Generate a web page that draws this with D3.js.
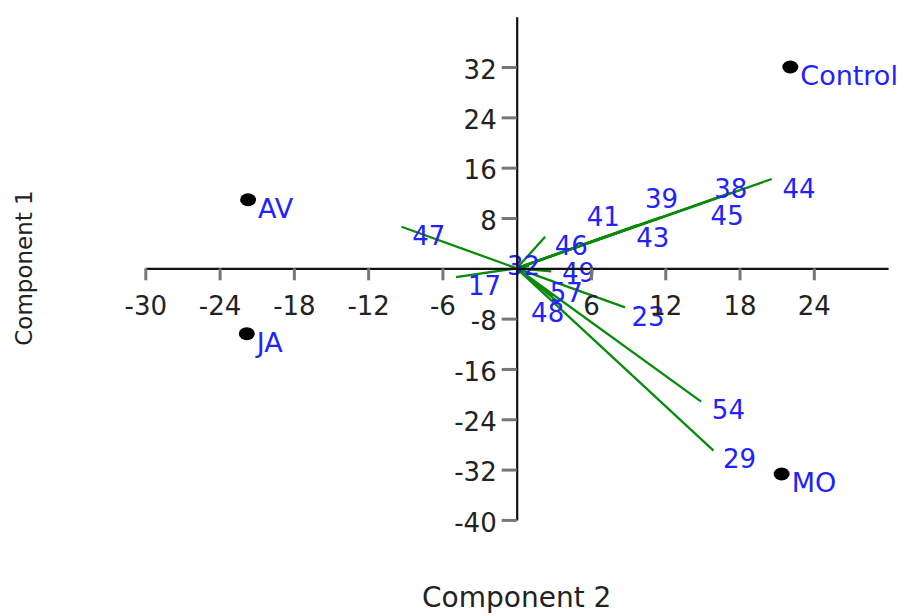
<!DOCTYPE html>
<html>
<head>
<meta charset="utf-8">
<script src="https://cdn.jsdelivr.net/npm/d3@7"></script>
<style>
  body { margin: 0; background: #fff; }
  text { font-family: "DejaVu Sans", sans-serif; }
</style>
</head>
<body>
<div id="chart"></div>
<script>
// treatments (scores)
const groups = ['Control', 'AV', 'JA', 'MO'];
const groupX = [22.1, -21.7, -21.8, 21.4];
const groupY = [32.0, 10.9, -10.4, -32.7];

// variables (loadings) - line end points
const vars = ['47', '17', '32', '46', '41', '39', '43', '38', '45', '44', '49', '57', '48', '23', '54', '29'];
const varX = [-9.3, -4.9, 1.0, 2.3, 7.2, 11.6, 9.8, 17.3, 16.6, 20.6, 2.8, 3.3, 2.9, 8.75, 14.9, 15.9];
const varY = [6.6, -1.4, 0.4, 5.0, 5.1, 8.1, 6.9, 12.0, 11.5, 14.2, -0.5, -5.3, -4.4, -6.2, -21.2, -29.0];
// where the labels sit (centre of text)
const labX = [-7.1, -2.6, 0.55, 4.4, 7.0, 11.7, 11.0, 17.3, 17.0, 22.8, 5.0, 4.0, 2.5, 10.6, 17.1, 18.0];
const labY = [5.2, -2.7, 0.37, 3.6, 8.2, 11.0, 4.9, 12.7, 8.3, 12.6, -0.7, -3.9, -7.0, -7.7, -22.5, -30.3];

const xTicks = [-30, -24, -18, -12, -6, 6, 12, 18, 24];
const yTicks = [-40, -32, -24, -16, -8, 8, 16, 24, 32];

const width = 905, height = 616;

const svg = d3.select('#chart').append('svg')
  .attr('width', width)
  .attr('height', height);

const x = d3.scaleLinear().domain([-30, 30]).range([145.3, 888.1]);
const y = d3.scaleLinear().domain([-40, 40]).range([519.9, 16.7]);
const fmt = d => String(d); // plain hyphen minus, like the original

// vectors
svg.append('g').selectAll('line')
  .data(vars)
  .enter()
  .append('line')
  .attr('x1', x(0)).attr('y1', y(0))
  .attr('x2', (d, i) => x(varX[i]))
  .attr('y2', (d, i) => y(varY[i]))
  .attr('stroke', '#0a8a0a')
  .attr('stroke-width', 2.3);

// variable labels
svg.append('g').selectAll('text')
  .data(vars)
  .enter()
  .append('text')
  .attr('x', (d, i) => x(labX[i]))
  .attr('y', (d, i) => y(labY[i]))
  .attr('dy', '0.36em')
  .attr('text-anchor', 'middle')
  .attr('font-size', 26)
  .attr('fill', '#2222ff')
  .text(d => d);

// axes crossing at the origin
const xAxis = svg.append('g')
  .attr('transform', `translate(0,${y(0)})`)
  .call(d3.axisBottom(x).tickValues(xTicks).tickFormat(fmt).tickSize(12).tickSizeOuter(0).tickPadding(16));
const yAxis = svg.append('g')
  .attr('transform', `translate(${x(0)},0)`)
  .call(d3.axisLeft(y).tickValues(yTicks).tickFormat(fmt).tickSize(15).tickSizeOuter(0).tickPadding(5));

[xAxis, yAxis].forEach(a => {
  a.select('.domain').attr('stroke', '#111').attr('stroke-width', 2.2);
  a.selectAll('.tick line').attr('stroke', '#777').attr('stroke-width', 3);
  a.selectAll('.tick text')
    .attr('font-size', 26)
    .attr('fill', '#222')
    .style('font-family', '"DejaVu Sans", sans-serif');
});
yAxis.selectAll('.tick text').attr('dy', '0.43em');

// treatment points
svg.append('g').selectAll('ellipse')
  .data(groups)
  .enter()
  .append('ellipse')
  .attr('cx', (d, i) => x(groupX[i]))
  .attr('cy', (d, i) => y(groupY[i]))
  .attr('rx', 8)
  .attr('ry', 6.5)
  .attr('fill', '#000');

svg.append('g').selectAll('text')
  .data(groups)
  .enter()
  .append('text')
  .attr('x', (d, i) => x(groupX[i]) + 10)
  .attr('y', (d, i) => y(groupY[i]) + 18)
  .attr('font-size', 27)
  .attr('fill', '#2222ff')
  .text(d => d);

// axis titles
svg.append('text')
  .attr('x', x(0))
  .attr('y', 607)
  .attr('text-anchor', 'middle')
  .attr('font-size', 28)
  .attr('fill', '#222')
  .text('Component 2');

svg.append('text')
  .attr('transform', 'translate(32,268) rotate(-90)')
  .attr('text-anchor', 'middle')
  .attr('font-size', 23)
  .attr('fill', '#222')
  .text('Component 1');
</script>
</body>
</html>
